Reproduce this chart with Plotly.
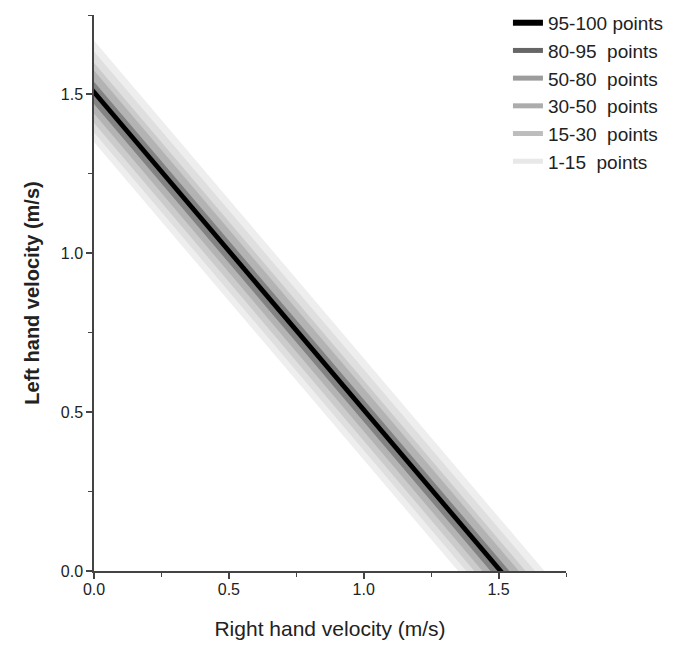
import plotly.graph_objects as go

# Band definitions: each band is the region between lines x + y = c_lo and x + y = c_hi
labels = ["1-15\u00a0\u00a0points", "15-30\u00a0\u00a0points", "30-50\u00a0\u00a0points",
          "50-80\u00a0\u00a0points", "80-95\u00a0\u00a0points", "95-100 points"]
c_lo = [1.35, 1.38, 1.41, 1.44, 1.47, 1.496]
c_hi = [1.67, 1.635, 1.60, 1.575, 1.54, 1.519]
fill_colors = ["#eeeeee", "#dfdfdf", "#cbcbcb", "#b3b3b3", "#838383", "#000000"]
legend_colors = ["#e8e8e8", "#bdbdbd", "#acacac", "#9c9c9c", "#666666", "#000000"]
legend_widths = [5, 5, 5, 5, 5, 6]

x_ticks = [0.0, 0.5, 1.0, 1.5]
y_ticks = [0.0, 0.5, 1.0, 1.5]

fig = go.Figure()

for lo, hi, col in zip(c_lo, c_hi, fill_colors):
    fig.add_trace(go.Scatter(
        x=[0, 0, hi, lo, 0], y=[lo, hi, 0, 0, lo],
        fill="toself", fillcolor=col, mode="lines", line=dict(width=0, color=col),
        showlegend=False, hoverinfo="skip"))

# legend entries (top to bottom: 95-100 ... 1-15)
for lab, col, w in reversed(list(zip(labels, legend_colors, legend_widths))):
    fig.add_trace(go.Scatter(x=[None], y=[None], mode="lines",
                             line=dict(color=col, width=w), name=lab))

axis_common = dict(
    range=[0, 1.75], showgrid=False, zeroline=False,
    showline=True, linecolor="#444", linewidth=1.5,
    ticks="outside", ticklen=6, tickwidth=1.5, tickcolor="#444",
    tickformat=".1f",
    tickfont=dict(family="Liberation Sans, Arial", size=16, color="#222"),
    minor=dict(ticks="outside", ticklen=4, tickwidth=1.2, tickcolor="#444", dtick=0.25, showgrid=False),
)

fig.update_layout(
    width=677, height=648,
    margin=dict(l=94, r=111, t=15, b=77, autoexpand=False),
    plot_bgcolor="white", paper_bgcolor="white",
    xaxis=dict(**axis_common, tickvals=x_ticks, ticklabelstandoff=-3,
               title=dict(text="Right hand velocity (m/s)", standoff=24,
                          font=dict(family="Liberation Sans, Arial", size=21, color="#222"))),
    yaxis=dict(**axis_common, tickvals=y_ticks,
               title=dict(text="<b>Left hand velocity (m/s)</b>", standoff=16,
                          font=dict(family="Liberation Sans, Arial", size=20, color="#222"))),
    legend=dict(x=0.877, y=1.02, xanchor="left", yanchor="top",
                font=dict(family="Liberation Sans, Arial", size=19, color="#222"),
                bgcolor="rgba(0,0,0,0)", tracegroupgap=0, itemwidth=30),
    showlegend=True,
)

fig.write_html("out.html")
